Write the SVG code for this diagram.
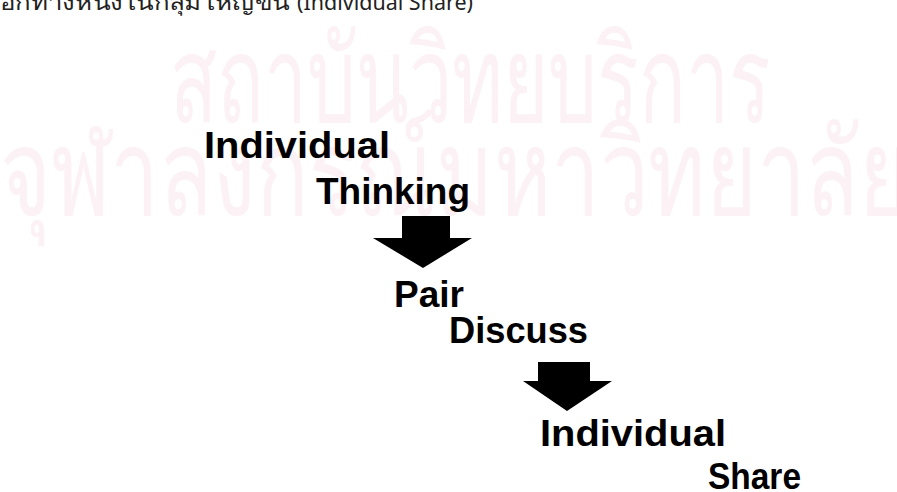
<svg xmlns="http://www.w3.org/2000/svg" width="897" height="492" viewBox="0 0 897 492">
<style>
.wm{font-family:"Noto Sans","DejaVu Sans",sans-serif;fill:#fcf1f5;font-size:120px;font-weight:300}
.cap{font-family:"Noto Sans","DejaVu Sans","Liberation Sans",sans-serif;fill:#222;font-size:22px}
.lbl{font-family:"Liberation Sans",Arial,sans-serif;font-weight:bold;font-size:36px;fill:#000}
.arr{fill:#000}
</style>
<rect width="897" height="492" fill="#fff"/>
<g id="watermark">
<text class="wm" x="170" y="122" textLength="600" lengthAdjust="spacingAndGlyphs">สถาบันวิทยบริการ</text>
<text class="wm" x="0" y="215" textLength="910" lengthAdjust="spacingAndGlyphs">จุฬาลงกรณ์มหาวิทยาลัย</text>
</g>
<g id="caption">
<text class="cap" x="0" y="10" textLength="290" lengthAdjust="spacingAndGlyphs">อีกทางหนึ่งในกลุ่มใหญ่ขึ้น</text>
<text class="cap" x="297" y="10" textLength="176" lengthAdjust="spacingAndGlyphs" font-family="Liberation Sans, sans-serif">(Individual Share)</text>
</g>
<g id="node-individual-thinking">
<text class="lbl" x="204" y="158" textLength="186" lengthAdjust="spacingAndGlyphs">Individual</text>
<text class="lbl" x="316" y="204" textLength="154" lengthAdjust="spacingAndGlyphs">Thinking</text>
</g>
<g id="node-pair-discuss">
<text class="lbl" x="394" y="307" textLength="70" lengthAdjust="spacingAndGlyphs">Pair</text>
<text class="lbl" x="449" y="343" textLength="139" lengthAdjust="spacingAndGlyphs">Discuss</text>
</g>
<g id="node-individual-share">
<text class="lbl" x="540" y="446" textLength="186" lengthAdjust="spacingAndGlyphs">Individual</text>
<text class="lbl" x="708" y="489" textLength="93" lengthAdjust="spacingAndGlyphs">Share</text>
</g>
<g id="connectors">
<path class="arr" d="M402,216 H450 V238 H472 L423,268 L373,238 H402 Z"/>
<path class="arr" d="M538,362 H590 V381 H612 L567,411 L523,381 H538 Z"/>
</g>
</svg>
